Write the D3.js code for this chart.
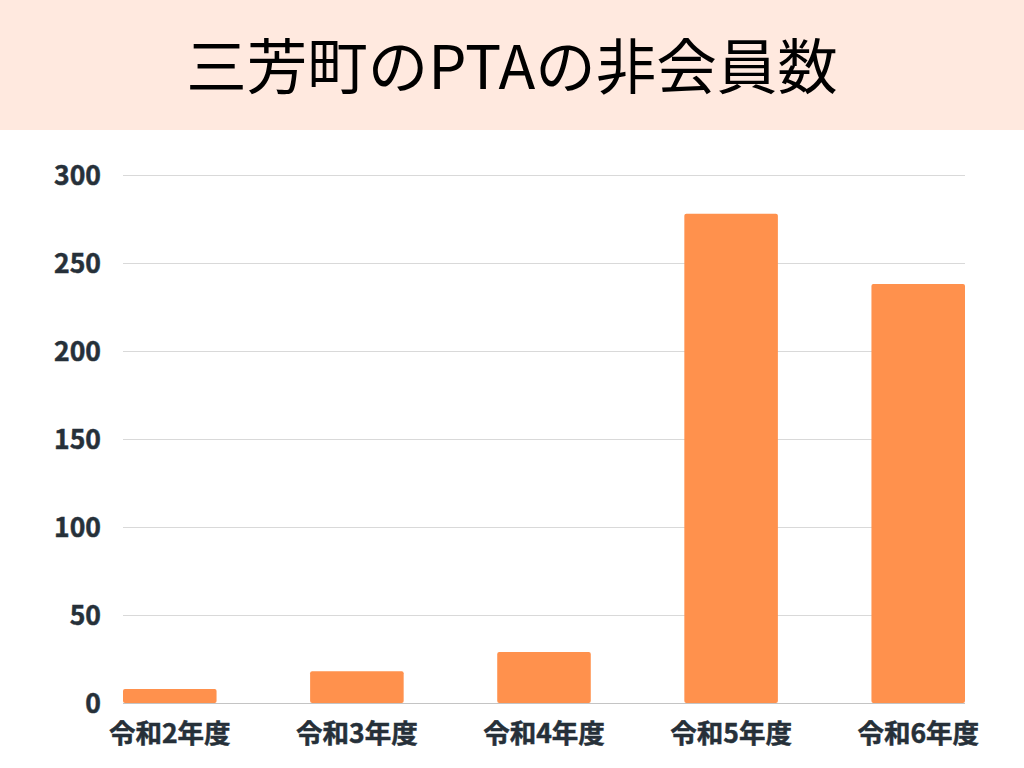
<!DOCTYPE html>
<html lang="ja">
<head>
<meta charset="UTF-8">
<title>三芳町のPTAの非会員数</title>
<style>
    body { margin: 0; background: #fff; }
    svg { display: block; }
    .tick-label {
        font-family: "Noto Sans CJK JP", sans-serif; font-weight: 700; font-size: 26.5px;
        fill: #263039; stroke: #263039; stroke-width: 0.5px;
    }
</style>
</head>
<body>
<svg id="chart"></svg>
<script src="https://cdn.jsdelivr.net/npm/d3@7"></script>
<script>
    const categories = ["令和2年度", "令和3年度", "令和4年度", "令和5年度", "令和6年度"];
    const counts = [8, 18, 29, 278, 238];
    const yTicks = [0, 50, 100, 150, 200, 250, 300];
    const title = "三芳町のPTAの非会員数";

    const width = 1024, height = 768;
    const margin = { top: 175, right: 60, bottom: 65, left: 123 };

    const svg = d3.select("#chart")
        .attr("width", width)
        .attr("height", height);

    // title band
    svg.append("rect")
        .attr("width", width)
        .attr("height", 130)
        .attr("fill", "#ffe9df");

    svg.append("text")
        .attr("x", width / 2)
        .attr("y", 89)
        .attr("text-anchor", "middle")
        .style("font-family", "'Noto Sans CJK JP', sans-serif")
        .style("font-size", "60.5px")
        .style("font-weight", 400)
        .attr("fill", "#000")
        .text(title);

    const x = d3.scaleBand()
        .domain(categories)
        .range([margin.left, width - margin.right + 1])
        .paddingInner(0.5)
        .paddingOuter(0);

    const y = d3.scaleLinear()
        .domain([0, 300])
        .range([height - margin.bottom, margin.top]);

    // gridlines
    svg.append("g")
        .selectAll("line")
        .data(yTicks)
        .join("line")
        .attr("x1", margin.left)
        .attr("x2", width - margin.right + 1)
        .attr("y1", d => y(d) + 0.5)
        .attr("y2", d => y(d) + 0.5)
        .attr("stroke", d => d === 0 ? "#c4c4c4" : "#d9d9d9")
        .attr("stroke-width", 1);

    // y labels
    svg.append("g")
        .selectAll("text")
        .data(yTicks)
        .join("text")
        .attr("class", "tick-label")
        .attr("x", 101)
        .attr("y", d => y(d))
        .attr("dy", "0.36em")
        .attr("text-anchor", "end")
        .text(d => d);

    // bars
    svg.append("g")
        .selectAll("rect")
        .data(counts)
        .join("rect")
        .attr("x", (d, i) => x(categories[i]))
        .attr("y", d => y(d))
        .attr("width", x.bandwidth())
        .attr("height", d => y(0) - y(d))
        .attr("rx", 2)
        .attr("fill", "#ff914d");

    // x labels
    svg.append("g")
        .selectAll("text")
        .data(categories)
        .join("text")
        .attr("class", "tick-label")
        .attr("x", d => x(d) + x.bandwidth() / 2)
        .attr("y", 743)
        .attr("text-anchor", "middle")
        .text(d => d);
</script>
</body>
</html>
